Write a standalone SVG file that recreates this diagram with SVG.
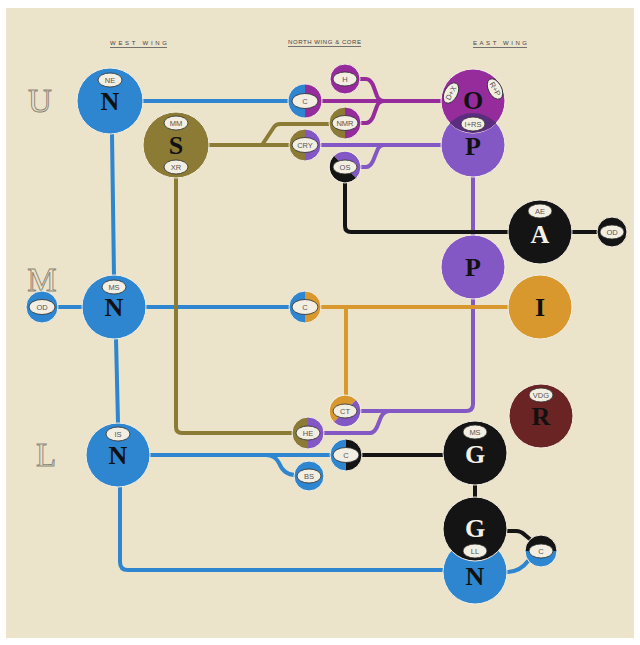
<svg xmlns="http://www.w3.org/2000/svg" width="640" height="645" viewBox="0 0 640 645">
<style>
.ln{fill:none;stroke-width:4;stroke-linecap:round;stroke-linejoin:round}
.bl{stroke:#2d86cf}.mg{stroke:#962c9c}.ol{stroke:#8b7b35}.pu{stroke:#8458c4}.bk{stroke:#141414}.or{stroke:#d8982e}
.nd{stroke:#f4efe2;stroke-width:1}
.fb{fill:#2d86cf}.fm{fill:#962c9c}.fo{fill:#8b7b35}.fp{fill:#8458c4}.fk{fill:#141414}.fr{fill:#d8982e}.fx{fill:#6b2424}
.lab{fill:#f3eee2;stroke:#2a2a2a;stroke-width:0.8}
.lt{font-family:"Liberation Sans Narrow","Liberation Sans",sans-serif;font-size:7.5px;fill:#555;text-anchor:middle}
.big{font-family:"Liberation Serif",serif;font-weight:bold;font-size:26px;text-anchor:middle;fill:#111}
.wt{fill:#f4f0e6}
.hd{font-family:"Liberation Sans Narrow","Liberation Sans",sans-serif;font-size:6px;fill:#444}
.hl{stroke:#555;stroke-width:0.8}
.row{font-family:"Liberation Serif",serif;font-size:33px;fill:#ece3cb;stroke:#8a8577;stroke-width:0.9;text-anchor:middle}
</style>
<defs>
<clipPath id="clipO"><circle cx="473" cy="101" r="32"/></clipPath>
</defs>
<rect width="640" height="645" fill="#ffffff"/>
<rect x="6" y="8" width="628" height="630" fill="#ece3cb"/>

<g id="headers">
<text class="hd" x="110" y="45" textLength="57" lengthAdjust="spacing">WEST WING</text>
<line class="hl" x1="110" y1="47.5" x2="167" y2="47.5"/>
<text class="hd" x="288" y="44" textLength="73" lengthAdjust="spacing">NORTH WING &amp; CORE</text>
<line class="hl" x1="288" y1="46.5" x2="361" y2="46.5"/>
<text class="hd" x="473" y="45" textLength="54" lengthAdjust="spacing">EAST WING</text>
<line class="hl" x1="473" y1="47.5" x2="527" y2="47.5"/>
</g>
<g id="rows">
<text class="row" x="40" y="112">U</text>
<text class="row" x="42" y="291">M</text>
<text class="row" x="46" y="466">L</text>
</g>

<g id="connectors">
<path class="ln bl" d="M143 101 H290 M112 134 L114 276 M116 339 L118 423 M58 307 H84 M146 307 H290 M150 455 H331 M266 455 Q275 455 279 463 Q284 475 295 475 M120 487 V562 Q120 570 128 570 H445 M528 561 Q520 572 506 572"/>
<path class="ln mg" d="M321 101 H442 M359 79 H366 Q370 79 373 85 L377 96 Q379 101 384 101 M360 123 H366 Q370 123 373 117 L377 106 Q379 101 384 101"/>
<path class="ln ol" d="M208 145 H290 M262 145 L274 127 Q276 124 280 124 H330 M176 178 V427 Q176 433 182 433 H293"/>
<path class="ln pu" d="M321 145 H442 M360 167 H366 Q370 167 373 161 L377 151 Q379 145 384 145 M473 176 V236 M473 299 V404 Q473 411 466 411 H360 M323 433 H370 Q374 433 377 427 L381 417 Q384 411 390 411"/>
<path class="ln bk" d="M345 183 V226 Q345 232 351 232 H509 M572 232 H598 M362 455 H444 M475 484 V498 M506 531 H516 Q521 531 525 535 L531 540"/>
<path class="ln or" d="M321 307 H509 M346 307 V395"/>
</g>

<g id="node-N-upper">
<circle class="nd fb" cx="110" cy="101" r="33"/>
<ellipse class="lab" cx="110" cy="80" rx="12" ry="7"/><text class="lt" x="110" y="82.6">NE</text>
<text class="big" x="110" y="110">N</text>
</g>
<g id="node-S">
<circle class="nd fo" cx="176" cy="145" r="33"/>
<ellipse class="lab" cx="176" cy="123" rx="12" ry="7"/><text class="lt" x="176" y="125.6">MM</text>
<ellipse class="lab" cx="176" cy="167" rx="12" ry="7"/><text class="lt" x="176" y="169.6">XR</text>
<text class="big" x="176" y="154">S</text>
</g>
<g id="node-N-middle">
<circle class="nd fb" cx="114" cy="307" r="32"/>
<ellipse class="lab" cx="114" cy="287" rx="12" ry="7"/><text class="lt" x="114" y="289.6">MS</text>
<text class="big" x="114" y="316">N</text>
</g>
<g id="node-OD-west">
<circle class="nd fb" cx="42" cy="307" r="16"/>
<ellipse class="lab" cx="42" cy="307" rx="13" ry="7.5"/><text class="lt" x="42" y="309.6">OD</text>
</g>
<g id="node-N-lower">
<circle class="nd fb" cx="118" cy="455" r="32"/>
<ellipse class="lab" cx="118" cy="434" rx="12" ry="7"/><text class="lt" x="118" y="436.6">IS</text>
<text class="big" x="118" y="464">N</text>
</g>
<g id="node-C-upper">
<path class="fb" d="M305 84 A17 17 0 0 0 305 118 Z"/><path class="fm" d="M305 84 A17 17 0 0 1 305 118 Z"/>
<circle cx="305" cy="101" r="17" fill="none" class="nd"/>
<ellipse class="lab" cx="305" cy="101" rx="13" ry="7.5"/><text class="lt" x="305" y="103.6">C</text>
</g>
<g id="node-H">
<circle class="nd fm" cx="345" cy="79" r="15"/>
<ellipse class="lab" cx="345" cy="79" rx="12" ry="7"/><text class="lt" x="345" y="81.6">H</text>
</g>
<g id="node-NMR">
<path class="fo" d="M345 107 A16 16 0 0 0 345 139 Z"/><path class="fm" d="M345 107 A16 16 0 0 1 345 139 Z"/>
<circle cx="345" cy="123" r="16" fill="none" class="nd"/>
<ellipse class="lab" cx="345" cy="123" rx="13" ry="7.5"/><text class="lt" x="345" y="125.6">NMR</text>
</g>
<g id="node-CRY">
<path class="fo" d="M305 129 A16 16 0 0 0 305 161 Z"/><path class="fp" d="M305 129 A16 16 0 0 1 305 161 Z"/>
<circle cx="305" cy="145" r="16" fill="none" class="nd"/>
<ellipse class="lab" cx="305" cy="145" rx="13" ry="7.5"/><text class="lt" x="305" y="147.6">CRY</text>
</g>
<g id="node-OS">
<path class="fp" d="M333.7 155.7 A16 16 0 0 1 356.3 178.3 Z"/><path class="fk" d="M333.7 155.7 A16 16 0 0 0 356.3 178.3 Z"/>
<circle cx="345" cy="167" r="16" fill="none" class="nd"/>
<ellipse class="lab" cx="345" cy="167" rx="12" ry="7"/><text class="lt" x="345" y="169.6">OS</text>
</g>
<g id="node-P-upper">
<circle class="nd fp" cx="473" cy="145" r="32"/>
<text class="big" x="473" y="155">P</text>
</g>
<g id="node-O">
<circle class="nd fm" cx="473" cy="101" r="32"/>
<circle cx="473" cy="145" r="32" fill="#5b2d7e" clip-path="url(#clipO)"/>
<ellipse class="lab" cx="451" cy="93" rx="11" ry="6.5" transform="rotate(-62 451 93)"/><text class="lt" x="451" y="95.5" transform="rotate(-62 451 93)">D+X</text>
<ellipse class="lab" cx="495" cy="89" rx="11" ry="6.5" transform="rotate(62 495 89)"/><text class="lt" x="495" y="91.5" transform="rotate(62 495 89)">R+P</text>
<ellipse class="lab" cx="473" cy="124" rx="12" ry="7"/><text class="lt" x="473" y="126.6">I+RS</text>
<text class="big" x="473" y="109">O</text>
</g>
<g id="node-A">
<circle class="nd fk" cx="540" cy="232" r="32"/>
<ellipse class="lab" cx="540" cy="211" rx="12" ry="7"/><text class="lt" x="540" y="213.6">AE</text>
<text class="big wt" x="540" y="243">A</text>
</g>
<g id="node-OD-east">
<circle class="nd fk" cx="612" cy="232" r="15"/>
<ellipse class="lab" cx="612" cy="232" rx="12" ry="7"/><text class="lt" x="612" y="234.6">OD</text>
</g>
<g id="node-P-middle">
<circle class="nd fp" cx="473" cy="267" r="32"/>
<text class="big" x="473" y="276">P</text>
</g>
<g id="node-I">
<circle class="nd fr" cx="540" cy="307" r="32"/>
<text class="big" x="540" y="316">I</text>
</g>
<g id="node-C-middle">
<path class="fb" d="M305 291 A16 16 0 0 0 305 323 Z"/><path class="fr" d="M305 291 A16 16 0 0 1 305 323 Z"/>
<circle cx="305" cy="307" r="16" fill="none" class="nd"/>
<ellipse class="lab" cx="305" cy="307" rx="13" ry="7.5"/><text class="lt" x="305" y="309.6">C</text>
</g>
<g id="node-CT">
<path class="fr" d="M333.7 422.3 A16 16 0 0 1 356.3 399.7 Z"/><path class="fp" d="M333.7 422.3 A16 16 0 0 0 356.3 399.7 Z"/>
<circle cx="345" cy="411" r="16" fill="none" class="nd"/>
<ellipse class="lab" cx="345" cy="411" rx="12" ry="7"/><text class="lt" x="345" y="413.6">CT</text>
</g>
<g id="node-HE">
<path class="fo" d="M308 417 A16 16 0 0 0 308 449 Z"/><path class="fp" d="M308 417 A16 16 0 0 1 308 449 Z"/>
<circle cx="308" cy="433" r="16" fill="none" class="nd"/>
<ellipse class="lab" cx="308" cy="433" rx="12" ry="7"/><text class="lt" x="308" y="435.6">HE</text>
</g>
<g id="node-C-lower">
<path class="fb" d="M346 439 A16 16 0 0 0 346 471 Z"/><path class="fk" d="M346 439 A16 16 0 0 1 346 471 Z"/>
<circle cx="346" cy="455" r="16" fill="none" class="nd"/>
<ellipse class="lab" cx="346" cy="455" rx="13" ry="7.5"/><text class="lt" x="346" y="457.6">C</text>
</g>
<g id="node-BS">
<circle class="nd fb" cx="309" cy="476" r="15"/>
<ellipse class="lab" cx="309" cy="476" rx="12" ry="7"/><text class="lt" x="309" y="478.6">BS</text>
</g>
<g id="node-R">
<circle class="nd fx" cx="541" cy="416" r="32"/>
<ellipse class="lab" cx="541" cy="395" rx="12" ry="7"/><text class="lt" x="541" y="397.6">VDG</text>
<text class="big" x="541" y="425">R</text>
</g>
<g id="node-G-upper">
<circle class="nd fk" cx="475" cy="453" r="32"/>
<ellipse class="lab" cx="475" cy="432" rx="12" ry="7"/><text class="lt" x="475" y="434.6">MS</text>
<text class="big wt" x="475" y="463">G</text>
</g>
<g id="node-N-bottom">
<circle class="nd fb" cx="475" cy="572" r="32"/>
<text class="big" x="475" y="585">N</text>
</g>
<g id="node-G-lower">
<circle class="nd fk" cx="475" cy="529" r="32"/>
<text class="big wt" x="475" y="537">G</text>
<ellipse class="lab" cx="475" cy="551" rx="12" ry="7"/><text class="lt" x="475" y="553.6">LL</text>
</g>
<g id="node-C-small">
<path class="fk" d="M525 551 A16 16 0 0 1 557 551 Z"/><path class="fb" d="M525 551 A16 16 0 0 0 557 551 Z"/>
<circle cx="541" cy="551" r="16" fill="none" class="nd"/>
<ellipse class="lab" cx="541" cy="551" rx="12" ry="7"/><text class="lt" x="541" y="553.6">C</text>
</g>
</svg>
